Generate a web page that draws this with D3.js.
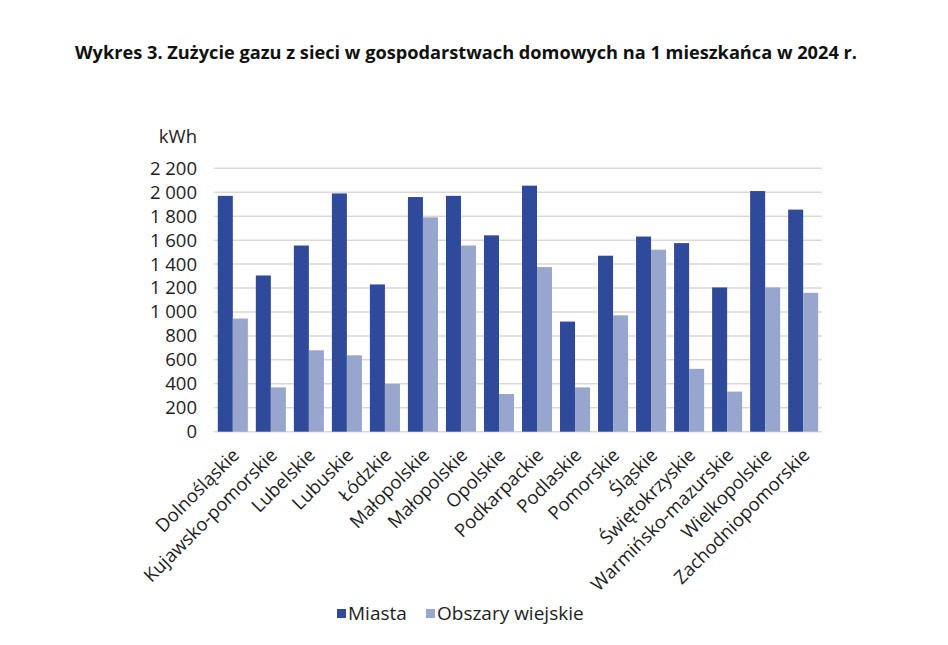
<!DOCTYPE html>
<html lang="pl">
<head>
    <meta charset="UTF-8">
    <title>Wykres 3</title>
    <style>
        body { margin: 0; background: #fff; }
        svg text { font-family: "Open Sans", "Noto Sans", sans-serif; fill: #1e1e1e; }
    </style>
</head>
<body>
    <svg id="main-svg" width="948" height="645"></svg>

    <script src="https://cdn.jsdelivr.net/npm/d3@7"></script>
    <script>
        // categories as printed in the source (Małopolskie appears twice there)
        const regions = ['Dolnośląskie', 'Kujawsko-pomorskie', 'Lubelskie', 'Lubuskie', 'Łódzkie',
            'Małopolskie', 'Małopolskie', 'Opolskie', 'Podkarpackie', 'Podlaskie', 'Pomorskie',
            'Śląskie', 'Świętokrzyskie', 'Warmińsko-mazurskie', 'Wielkopolskie', 'Zachodniopomorskie'];
        const seriesNames = ['Miasta', 'Obszary wiejskie'];
        const miasta = [1970, 1305, 1555, 1990, 1230, 1960, 1970, 1640, 2055, 920, 1470, 1630, 1575, 1205, 2010, 1855];
        const wies = [945, 370, 680, 638, 400, 1790, 1555, 315, 1375, 370, 972, 1520, 525, 335, 1205, 1160];
        const yTicks = [0, 200, 400, 600, 800, 1000, 1200, 1400, 1600, 1800, 2000, 2200];

        const colors = ['#2f4a9a', '#98a5cd'];

        const svg = d3.select('#main-svg');

        const plotLeft = 214, plotRight = 822, plotTop = 168.3, plotBottom = 431.7;

        const x = d3.scaleBand()
            .domain(d3.range(regions.length))
            .range([plotLeft, plotRight])
            .paddingInner(0.21)
            .paddingOuter(0.1);

        const x1 = d3.scaleBand()
            .domain([0, 1])
            .range([0, x.bandwidth()]);

        const y = d3.scaleLinear()
            .domain([0, 2200])
            .range([plotBottom, plotTop]);

        // title
        svg.append('text')
            .attr('x', 75)
            .attr('y', 59)
            .attr('textLength', 782)
            .attr('lengthAdjust', 'spacingAndGlyphs')
            .style('font-size', '18px')
            .style('font-weight', 'bold')
            .style('fill', '#111')
            .text('Wykres 3. Zużycie gazu z sieci w gospodarstwach domowych na 1 mieszkańca w 2024 r.');

        // unit
        svg.append('text')
            .attr('x', 197)
            .attr('y', 143)
            .attr('text-anchor', 'end')
            .style('font-size', '18.5px')
            .text('kWh');

        // gridlines
        svg.append('g')
            .selectAll('line')
            .data(yTicks)
            .enter()
            .append('line')
            .attr('x1', plotLeft)
            .attr('x2', plotRight)
            .attr('y1', d => y(d))
            .attr('y2', d => y(d))
            .attr('stroke', '#d9d9d9')
            .attr('stroke-width', 1.5);

        // y axis labels, space as thousands separator
        const fmt = d => d3.format(',')(d).replace(',', ' ');
        const yAxis = svg.append('g')
            .attr('transform', 'translate(' + (plotLeft - 17) + ',0)')
            .call(d3.axisLeft(y).tickValues(yTicks).tickFormat(fmt).tickSize(0).tickPadding(0));
        yAxis.select('.domain').remove();
        yAxis.selectAll('text')
            .style('font-size', '18.5px')
            .style('font-family', '"Open Sans", "Noto Sans", sans-serif')
            .style('fill', '#1e1e1e');

        // bars
        const groups = svg.append('g')
            .selectAll('g')
            .data(regions.map((r, i) => [miasta[i], wies[i]]))
            .enter()
            .append('g')
            .attr('transform', (d, i) => 'translate(' + x(i) + ',0)');

        groups.selectAll('rect')
            .data(d => d)
            .enter()
            .append('rect')
            .attr('x', (d, j) => x1(j))
            .attr('width', x1.bandwidth())
            .attr('y', d => y(d))
            .attr('height', d => y(0) - y(d))
            .attr('fill', (d, j) => colors[j]);

        // x labels
        svg.append('g')
            .selectAll('text')
            .data(regions)
            .enter()
            .append('text')
            .attr('transform', (d, i) => 'translate(' + (x(i) + x.bandwidth() / 2 + 3) + ',' + (plotBottom + 20) + ') rotate(-45)')
            .attr('text-anchor', 'end')
            .attr('dy', '0.35em')
            .style('font-size', '18.5px')
            .text(d => d);

        // legend
        const legendX = [337, 426];
        const legend = svg.append('g')
            .selectAll('g')
            .data(seriesNames)
            .enter()
            .append('g')
            .attr('transform', (d, i) => 'translate(' + legendX[i] + ',609)');
        legend.append('rect')
            .attr('width', 9)
            .attr('height', 9)
            .attr('fill', (d, i) => colors[i]);
        legend.append('text')
            .attr('x', 11)
            .attr('y', 11)
            .style('font-size', '19px')
            .text(d => d);
    </script>
</body>
</html>
